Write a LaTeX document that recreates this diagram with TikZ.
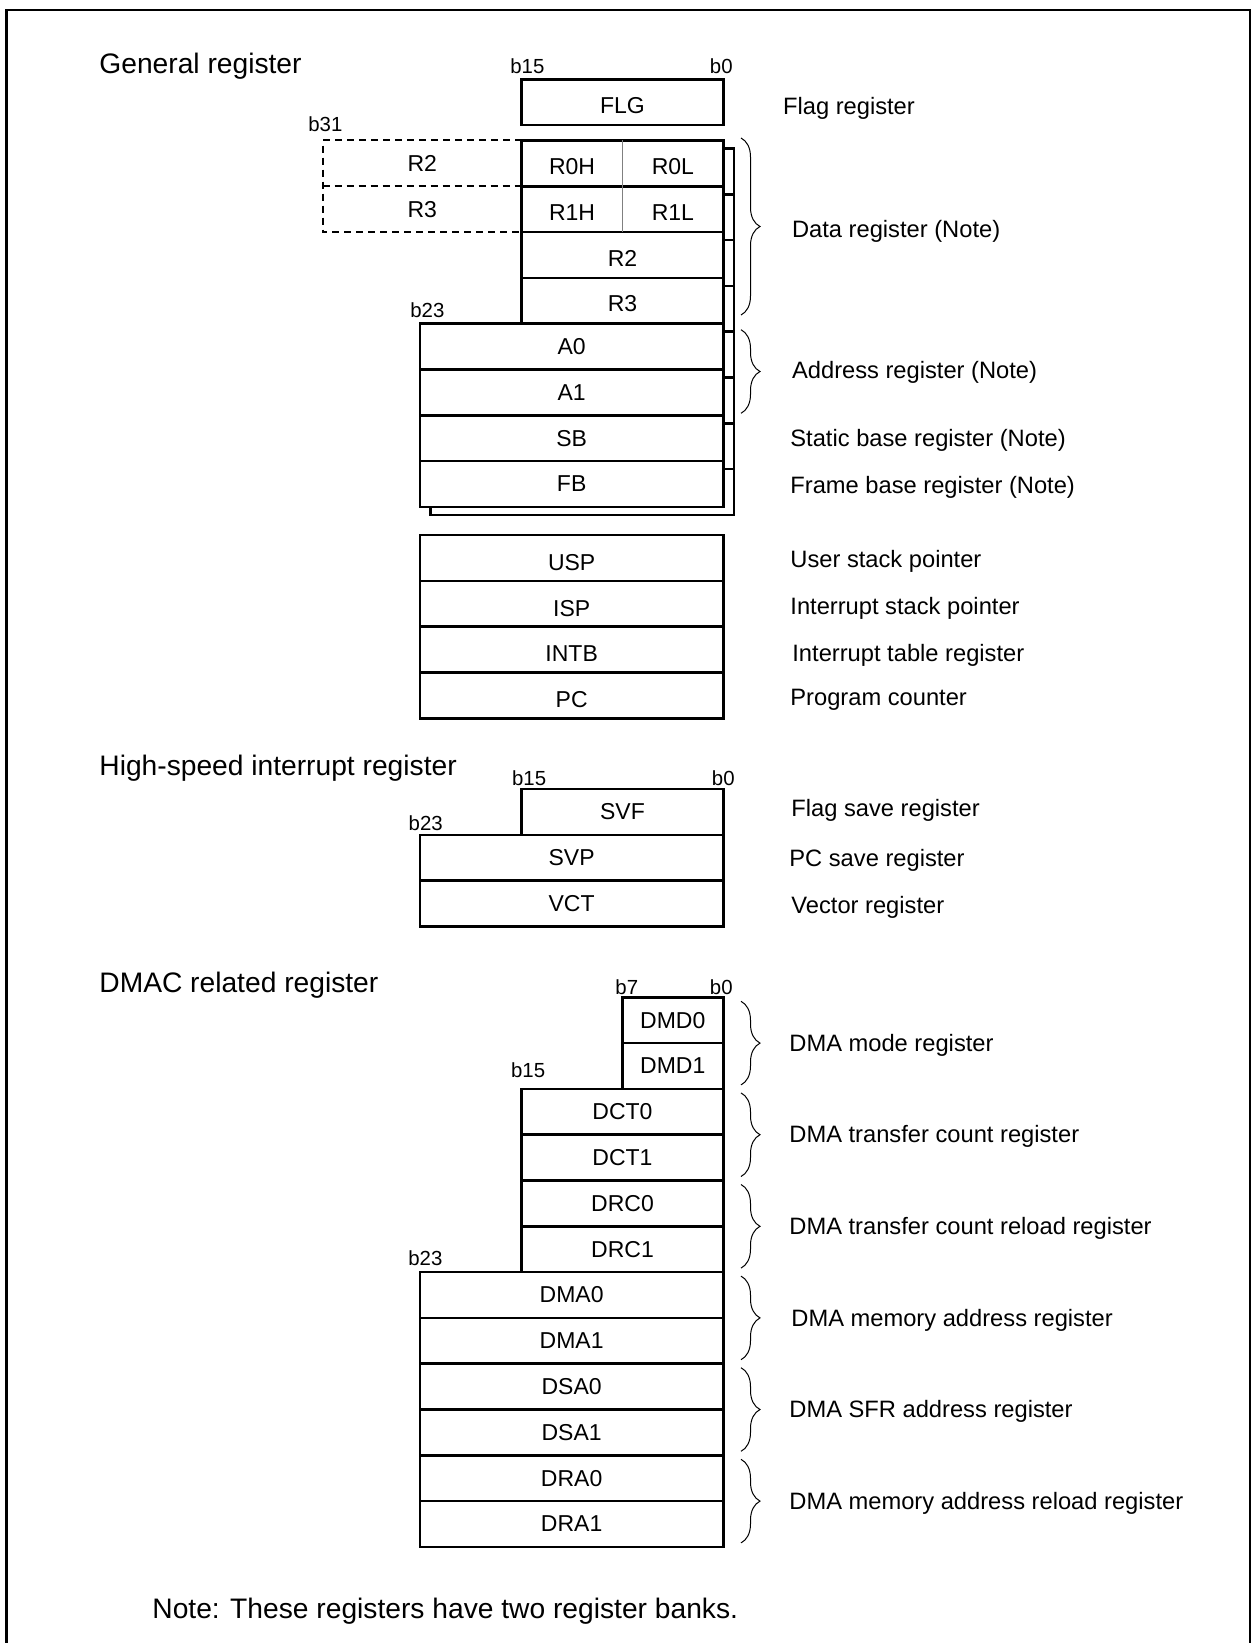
\documentclass[tikz,border=0pt]{standalone}
\usepackage{fontspec}
\setmainfont{Liberation Sans}
\usetikzlibrary{decorations.pathreplacing}

\begin{document}
\begin{tikzpicture}[x=0.5pt,y=-0.5pt,font=\fontsize{11.5}{13.8}\selectfont]

		\useasboundingbox (0,0) rectangle (1251,1643);

		\pgfmathsetmacro{\rowH}{22.9}

		\tikzset{
			regRow/.style={
				draw, black, line width=1.3pt, fill=white,
				minimum height=\rowH pt,
				inner sep=0,
				outer sep=0pt,
				anchor=north east,
			},
			wideRow/.style={regRow, minimum width=151.65pt},
			wordRow/.style={regRow, minimum width=100.8pt},
			byteRow/.style={regRow, minimum width=50.5pt},
			halfCell/.style={
				minimum width=50.4pt,
				minimum height=\rowH pt,
				inner sep=0,
				outer sep=0pt,
			},
			extCell/.style={
				minimum width=99.5pt,
				minimum height=\rowH pt,
				inner sep=0,
				outer sep=0pt,
			},
			lowText/.style={text height=11pt, text depth=0pt},
			lowerText/.style={text height=12.4pt, text depth=0pt},
			extLine/.style={line width=1pt, dash pattern=on 3.5pt off 2.5pt},
			halfLine/.style={line width=0.5pt, gray},
			bitNum/.style={inner sep=0, font=\fontsize{10.2}{12}\selectfont},
			regText/.style={anchor=base west, inner sep=0, font=\fontsize{11.85}{14}\selectfont},
			groupTitle/.style={anchor=base west, inner sep=0, font=\fontsize{14.1}{17}\selectfont},
			bankBrace/.style={decorate, decoration={brace, amplitude=9.5pt}, line width=0.5pt},
		}

		% Frame
		\draw[line width=1.3pt] (6.2,1660) -- (6.2,10) -- (1250.3,10) -- (1250.3,1660);

		% General register
		\node[groupTitle] (genTitle) at (99,73.3) {General register};

		% Flag
		\node[wordRow, lowText] (flg) at (723.3,79.3) {FLG};
		\node[bitNum, anchor=base west] (flgMsb) at (510,74) {b15};
		\node[bitNum, anchor=base east] (flgLsb) at (733,74) {b0};

		% Second bank (behind)
		\node[wordRow] (bankR0) at (733.8,148.5) {};
		\foreach \cur/\prev/\kind in {bankR1/bankR0/wordRow,bankR2/bankR1/wordRow,bankR3/bankR2/wordRow,
			bankA0/bankR3/wideRow,bankA1/bankA0/wideRow,bankSB/bankA1/wideRow,bankFB/bankSB/wideRow}
			\node[\kind] (\cur) at (\prev.south east) {};

		% Data registers
		\node[wordRow] (r0) at (723.3,140.5) {};
		\node[wordRow] (r1) at (r0.south east) {};
		\node[wordRow, lowText] (r2) at (r1.south east) {R2};
		\node[wordRow, lowText] (r3) at (r2.south east) {R3};
		\draw[halfLine] (r0.north) -- (r0.south);
		\draw[halfLine] (r1.north) -- (r1.south);
		\node[halfCell, lowText, anchor=west] (r0h) at (r0.west) {R0H};
		\node[halfCell, lowText, anchor=east] (r0l) at (r0.east) {R0L};
		\node[halfCell, lowText, anchor=west] (r1h) at (r1.west) {R1H};
		\node[halfCell, lowText, anchor=east] (r1l) at (r1.east) {R1L};

		% 32-bit extension
		\node[extCell, anchor=east] (r2hi) at (r0.west) {R2};
		\node[extCell, anchor=east] (r3hi) at (r1.west) {R3};
		\draw[extLine] (r0.north west) -- (r2hi.north west) -- (r3hi.south west) -- (r1.south west);
		\draw[extLine] (r2hi.south west) -- (r0.south west);
		\node[bitNum, anchor=base west] (extMsb) at (308,131.5) {b31};

		% Address registers
		\node[wideRow] (a0) at (r3.south east) {A0};
		\node[wideRow] (a1) at (a0.south east) {A1};
		\node[wideRow] (sb) at (a1.south east) {SB};
		\node[wideRow] (fb) at (sb.south east) {FB};
		\node[bitNum, anchor=base west] (addrMsb) at (410,317) {b23};

		% Stack pointers
		\node[wideRow, lowerText] (usp) at (723.3,535) {USP};
		\node[wideRow, lowerText] (isp) at (usp.south east) {ISP};
		\node[wideRow, lowerText] (intb) at (isp.south east) {INTB};
		\node[wideRow, lowerText] (pc) at (intb.south east) {PC};

		% Braces
		\draw[bankBrace] ([shift={(17.7,-2.5)}]r0.north east) -- ([shift={(17.7,-8.7)}]r3.south east);
		\draw[bankBrace] ([shift={(17.7,6)}]a0.north east) -- ([shift={(17.7,-2)}]a1.south east);

		% Names
		\node[regText] (flgText) at (782.7,114.5) {Flag register};
		\node[regText] (dataText) at (791.7,237) {Data register (Note)};
		\node[regText] (addrText) at (791.7,378.5) {Address register (Note)};
		\node[regText] (sbText) at (790,446.5) {Static base register (Note)};
		\node[regText] (fbText) at (790,493.5) {Frame base register (Note)};
		\node[regText] (uspText) at (790,567) {User stack pointer};
		\node[regText] (ispText) at (790,614.5) {Interrupt stack pointer};
		\node[regText] (intbText) at (792,661) {Interrupt table register};
		\node[regText] (pcText) at (790,705.5) {Program counter};

		% High-speed interrupt register
		\node[groupTitle] (hsTitle) at (99,775.5) {High-speed interrupt register};
		\node[wordRow] (svf) at (723.3,789) {SVF};
		\node[wideRow] (svp) at (svf.south east) {SVP};
		\node[wideRow] (vct) at (svp.south east) {VCT};
		\node[bitNum, anchor=base west] (svfMsb) at (511.7,785) {b15};
		\node[bitNum, anchor=base east] (svfLsb) at (735,785) {b0};
		\node[bitNum, anchor=base west] (svpMsb) at (408.3,830) {b23};
		\node[regText] (svfText) at (791,816.5) {Flag save register};
		\node[regText] (svpText) at (789,866) {PC save register};
		\node[regText] (vctText) at (791,913) {Vector register};

		% DMAC related register
		\node[groupTitle] (dmacTitle) at (99,992) {DMAC related register};
		\node[byteRow] (dmd0) at (723.3,997.3) {DMD0};
		\node[byteRow] (dmd1) at (dmd0.south east) {DMD1};
		\node[wordRow] (dct0) at (dmd1.south east) {DCT0};
		\node[wordRow] (dct1) at (dct0.south east) {DCT1};
		\node[wordRow] (drc0) at (dct1.south east) {DRC0};
		\node[wordRow] (drc1) at (drc0.south east) {DRC1};
		\node[wideRow] (dma0) at (drc1.south east) {DMA0};
		\node[wideRow] (dma1) at (dma0.south east) {DMA1};
		\node[wideRow] (dsa0) at (dma1.south east) {DSA0};
		\node[wideRow] (dsa1) at (dsa0.south east) {DSA1};
		\node[wideRow] (dra0) at (dsa1.south east) {DRA0};
		\node[wideRow] (dra1) at (dra0.south east) {DRA1};
		\node[bitNum, anchor=base west] (dmdMsb) at (615,994) {b7};
		\node[bitNum, anchor=base east] (dmdLsb) at (733,994) {b0};
		\node[bitNum, anchor=base west] (dctMsb) at (510.7,1077.3) {b15};
		\node[bitNum, anchor=base west] (dmaMsb) at (408,1265) {b23};

		\foreach \hi/\lo in {dmd0/dmd1,dct0/dct1,drc0/drc1,dma0/dma1,dsa0/dsa1,dra0/dra1}
			\draw[bankBrace] ([shift={(17.7,4)}]\hi.north east) -- ([shift={(17.7,-4)}]\lo.south east);

		\node[regText] (dmdText) at (789,1051) {DMA mode register};
		\node[regText] (dctText) at (789,1142.7) {DMA transfer count register};
		\node[regText] (drcText) at (789,1234.3) {DMA transfer count reload register};
		\node[regText] (dmaText) at (791,1326) {DMA memory address register};
		\node[regText] (dsaText) at (789,1417.5) {DMA SFR address register};
		\node[regText] (draText) at (789,1509) {DMA memory address reload register};

		% Note
		\node[groupTitle] (noteText) at (152,1618) {Note: These registers have two register banks.};

	\end{tikzpicture}
\end{document}
